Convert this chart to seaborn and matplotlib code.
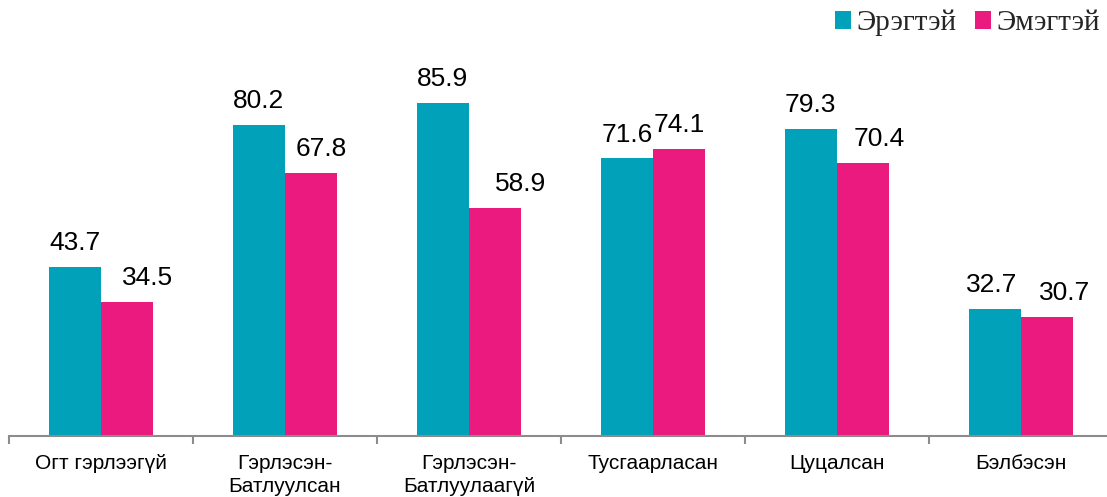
import matplotlib
matplotlib.use("Agg")
import matplotlib.pyplot as plt
import seaborn as sns
import pandas as pd
from matplotlib.patches import Patch
from matplotlib.ticker import FixedLocator

categories = ["Огт гэрлээгүй", "Гэрлэсэн-\nБатлуулсан", "Гэрлэсэн-\nБатлуулаагүй",
              "Тусгаарласан", "Цуцалсан", "Бэлбэсэн"]
series_names = ["Эрэгтэй", "Эмэгтэй"]
male = [43.7, 80.2, 85.9, 71.6, 79.3, 32.7]
female = [34.5, 67.8, 58.9, 74.1, 70.4, 30.7]
colors = ["#00A1B9", "#EA1A7F"]

# horizontal nudges (in pixels) of the value labels, as placed in the original chart
male_label_dx = [0, 0, 0, 0, 0, -3]
female_label_dx = [20, 10, 25, 0, 16, 17]

df = pd.DataFrame({
    "category": categories * 2,
    "sex": [series_names[0]] * len(categories) + [series_names[1]] * len(categories),
    "value": male + female,
})

sns.set_style("white")
plt.rcParams["font.family"] = ["Liberation Sans", "DejaVu Sans"]

fig = plt.figure(figsize=(11.07, 4.97), dpi=100)
ax = fig.add_axes([9 / 1107, 61 / 497, 1104 / 1107, 387.7 / 497])

sns.barplot(data=df, x="category", y="value", hue="sex", order=categories,
            hue_order=series_names, palette=colors, width=0.57, ax=ax,
            linewidth=0, saturation=1, legend=False)

pad_pt = 8.5
for cont, offsets in zip(ax.containers, [male_label_dx, female_label_dx]):
    anns = ax.bar_label(cont, fmt="%.1f", padding=pad_pt, fontsize=19, color="#000000")
    for ann, dx in zip(anns, offsets):
        ann.xyann = (dx * 72 / fig.dpi, pad_pt)

ax.set_ylim(0, 100)
ax.set_xlim(-0.5, 5.5)
ax.set_xlabel("")
ax.set_ylabel("")
ax.set_yticks([])
for s in ["left", "top", "right"]:
    ax.spines[s].set_visible(False)
ax.spines["bottom"].set_color("#8c8c8c")
ax.spines["bottom"].set_linewidth(1.5)

ax.tick_params(axis="x", which="major", length=0, pad=13, labelsize=15, labelcolor="#000000")
for lbl in ax.get_xticklabels():
    lbl.set_linespacing(1.25)
ax.xaxis.set_minor_locator(FixedLocator([-0.5, 0.5, 1.5, 2.5, 3.5, 4.5]))
ax.tick_params(axis="x", which="minor", length=6, width=1.5, color="#8c8c8c", direction="out", bottom=True)

handles = [Patch(facecolor=c, edgecolor="none") for c in colors]
leg = fig.legend(handles, series_names, loc="upper right", bbox_to_anchor=(1100 / 1107, 1 - 10 / 497),
                 ncol=2, frameon=False, handlelength=0.55, handleheight=0.55,
                 handletextpad=0.2, columnspacing=0.62, borderpad=0, borderaxespad=0,
                 prop={"family": "Liberation Serif", "size": 21})

fig.savefig("out.png", dpi=100)
